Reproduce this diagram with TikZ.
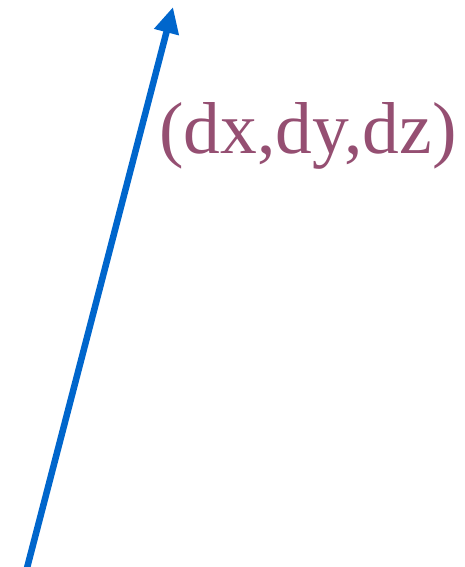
\documentclass[tikz,border=0pt]{standalone}
\usepackage{fontspec}
\setmainfont{Liberation Serif}
\usepackage{xcolor}
\usetikzlibrary{arrows.meta,positioning}
\definecolor{vecblue}{RGB}{0,102,204}
\definecolor{labpurple}{RGB}{149,79,114}
\begin{document}
\begin{tikzpicture}[x=1pt,y=-1pt,comment/.style={text=labpurple, font=\fontsize{73.5}{80}\selectfont, inner sep=0pt}]
			\useasboundingbox (0,0) rectangle (464,567);
			\coordinate (o) at (27,568);
			\coordinate (v) at (173,7);
			\node (d) [comment, anchor=base west] at (159,153) {(dx,dy,dz)};
			
			\draw [-{Triangle[length=26pt,width=24pt]}, line width=6.5pt, vecblue] (o) -- (v);
		\end{tikzpicture}
\end{document}
